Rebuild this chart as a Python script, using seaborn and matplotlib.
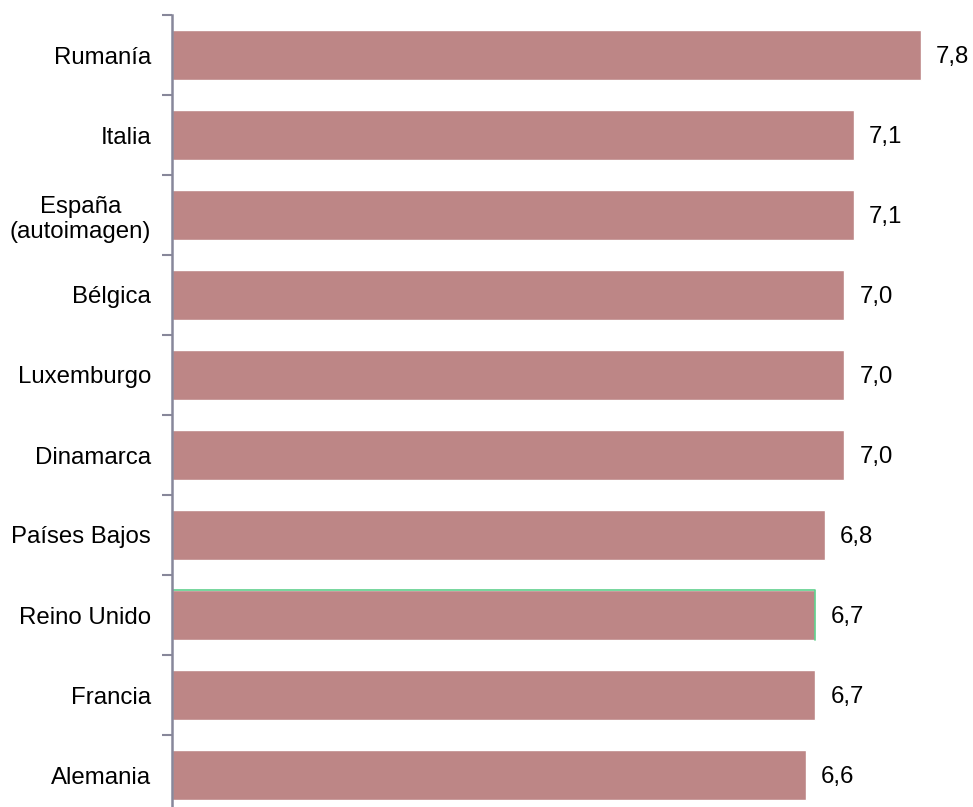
import matplotlib
matplotlib.use("Agg")
import matplotlib.pyplot as plt
import seaborn as sns
import pandas as pd
import numpy as np

categories = ["Rumanía", "Italia", "España\n(autoimagen)", "Bélgica", "Luxemburgo",
              "Dinamarca", "Países Bajos", "Reino Unido", "Francia", "Alemania"]
values = [7.8, 7.1, 7.1, 7.0, 7.0, 7.0, 6.8, 6.7, 6.7, 6.6]
value_labels = ["7,8", "7,1", "7,1", "7,0", "7,0", "7,0", "6,8", "6,7", "6,7", "6,6"]

sns.set_theme(style="white")
plt.rcParams['font.family'] = ['Liberation Sans', 'DejaVu Sans']

df = pd.DataFrame({"pais": categories, "valor": values})

fig = plt.figure(figsize=(9.73, 8.07), dpi=100)
W, H = 973, 807
ax = fig.add_axes([172 / W, -8 / H, (W - 172) / W, 800 / H])

sns.barplot(data=df, y="pais", x="valor", orient="h", color="#BD8686",
            saturation=1, width=0.62, ax=ax, order=categories)

ax.set_xlim(0, (W - 172) / 96.0)
ax.set_ylim(len(categories) - 0.5, -0.5)

for spine in ["top", "right", "bottom"]:
    ax.spines[spine].set_visible(False)
ax.spines["left"].set_color("#87879A")
ax.spines["left"].set_linewidth(1.8)

fs = 17.3
ax.set_xticks([])
ax.set_yticks(range(len(categories)))
ax.set_yticklabels(categories, fontsize=fs, color="#000000", ha="right",
                   multialignment="center")
ax.tick_params(axis="y", which="major", length=0, pad=15)
ax.set_yticks(np.arange(-0.5, len(categories), 1.0), minor=True)
ax.tick_params(axis="y", which="minor", length=7, width=1.5, color="#87879A", left=True)
ax.set_xlabel("")
ax.set_ylabel("")

for patch, lab in zip(ax.patches, value_labels):
    xe = patch.get_x() + patch.get_width()
    yc = patch.get_y() + patch.get_height() / 2
    ax.annotate(lab, (xe, yc), xytext=(11, 0), textcoords="offset points",
                va="center_baseline", ha="left", fontsize=fs, color="#000000")

# green outline on Reino Unido bar (top and right edges)
p = ax.patches[categories.index("Reino Unido")]
x0, y0, w, h = p.get_x(), p.get_y(), p.get_width(), p.get_height()
ax.plot([x0, x0 + w, x0 + w], [y0, y0, y0 + h], color="#5FCF8C", linewidth=1.2)

fig.savefig("out.png", dpi=100)
